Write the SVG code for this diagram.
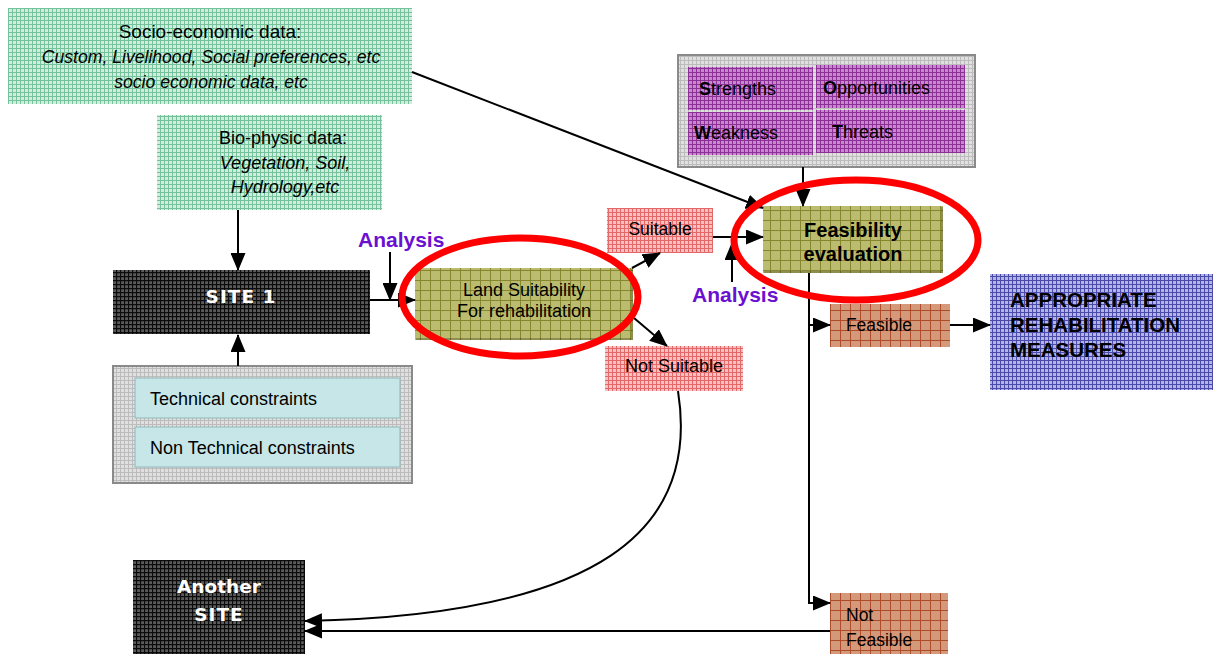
<svg xmlns="http://www.w3.org/2000/svg" width="1213" height="654" viewBox="0 0 1213 654">
<defs>
<pattern id="pGreen" patternUnits="userSpaceOnUse" width="4" height="4"><rect width="4" height="4" fill="#d2ecdd"/><path d="M0,0.5H4M0.5,0V4" stroke="#74c29c" stroke-width="1"/></pattern>
<pattern id="pDark" patternUnits="userSpaceOnUse" width="4" height="4"><rect width="4" height="4" fill="#5a5a5a"/><path d="M0,0.5H4M0.5,0V4" stroke="#0c0c0c" stroke-width="1.3"/></pattern>
<pattern id="pOlive" patternUnits="userSpaceOnUse" width="10" height="10"><rect width="10" height="10" fill="#bcbc70"/><path d="M0,0.5H10M0.5,0V10" stroke="#86862e" stroke-width="1"/></pattern>
<pattern id="pPink" patternUnits="userSpaceOnUse" width="4" height="4"><rect width="4" height="4" fill="#f8c0c0"/><path d="M0,0.5H4M0.5,0V4" stroke="#e46868" stroke-width="1"/></pattern>
<pattern id="pPurple" patternUnits="userSpaceOnUse" width="4" height="4"><rect width="4" height="4" fill="#c888cc"/><path d="M0,0.5H4M0.5,0V4" stroke="#8c3098" stroke-width="1"/></pattern>
<pattern id="pBlue" patternUnits="userSpaceOnUse" width="4" height="4"><rect width="4" height="4" fill="#b4b4e6"/><path d="M0,0.5H4M0.5,0V4" stroke="#4a4aa8" stroke-width="1.1"/></pattern>
<pattern id="pBrown" patternUnits="userSpaceOnUse" width="10" height="10"><rect width="10" height="10" fill="#d4987a"/><path d="M0,0.5H10M0.5,0V10" stroke="#ac4c28" stroke-width="1"/></pattern>
<pattern id="pGray" patternUnits="userSpaceOnUse" width="4" height="4"><rect width="4" height="4" fill="#e0e0e0"/><path d="M0,0.5H4M0.5,0V4" stroke="#bcbcbc" stroke-width="1"/></pattern>
<marker id="arr" markerUnits="userSpaceOnUse" markerWidth="18" markerHeight="15" refX="17" refY="7.5" orient="auto"><path d="M0,0L18,7.5L0,15Z" fill="#000"/></marker>
<style>
.t{font-family:"Liberation Sans",Arial,sans-serif;font-size:18px;fill:#000;text-anchor:middle}
.tl{font-family:"Liberation Sans",Arial,sans-serif;font-size:18px;fill:#000}
.it{font-style:italic}
.b{font-weight:bold}
.w{font-family:"DejaVu Sans",Verdana,sans-serif;font-weight:bold;font-size:18.5px;fill:#fff;text-anchor:middle}
.an{font-family:"Liberation Sans",Arial,sans-serif;font-weight:bold;font-size:21px;fill:#6a10d0}
.ca{fill:none;stroke:#000;stroke-width:2;marker-end:url(#arr)}
.ring{fill:none;stroke:#ff0000;stroke-width:7}
.bevel{fill:none;stroke:#000;stroke-opacity:0.25;stroke-width:2}
</style>
</defs>

<g id="socio">
<rect x="8" y="8" width="404" height="96" fill="url(#pGreen)"/>
<text class="t" x="210" y="38" style="font-size:19px">Socio-economic data:</text>
<text class="t it" x="211" y="63" style="font-size:17.6px">Custom, Livelihood, Social preferences, etc</text>
<text class="t it" x="211" y="88" style="font-size:17.6px">socio economic data, etc</text>
</g>

<g id="bio">
<rect x="157" y="115" width="225" height="95" fill="url(#pGreen)"/>
<text class="t" x="283" y="144">Bio-physic data:</text>
<text class="t it" x="285" y="169">Vegetation, Soil,</text>
<text class="t it" x="285" y="193">Hydrology,etc</text>
</g>

<g id="site1">
<rect x="113" y="270" width="257" height="64" fill="url(#pDark)"/>
<path class="bevel" d="M369,271V333H114"/>
<text class="w" x="241" y="303" letter-spacing="1">SITE 1</text>
</g>

<g id="constraints">
<rect x="113" y="366" width="299" height="117" fill="url(#pGray)" stroke="#8a8a8a" stroke-width="2"/>
<rect x="135" y="378" width="265" height="40" fill="#c6e6e8" stroke="#8fb8ba" stroke-width="1"/>
<text class="tl" x="150" y="405">Technical constraints</text>
<rect x="135" y="427" width="265" height="40" fill="#c6e6e8" stroke="#8fb8ba" stroke-width="1"/>
<text class="tl" x="150" y="454">Non Technical constraints</text>
</g>

<g id="land">
<rect x="415" y="268" width="218" height="72" fill="url(#pOlive)"/>
<path class="bevel" d="M632,269V339H416"/>
<text class="t" x="524" y="296">Land Suitability</text>
<text class="t" x="524" y="317">For rehabilitation</text>
</g>

<g id="suitable">
<rect x="607" y="208" width="106" height="45" fill="url(#pPink)"/>
<text class="t" x="660" y="235" style="font-size:17.5px">Suitable</text>
</g>

<g id="notsuitable">
<rect x="605" y="346" width="138" height="45" fill="url(#pPink)"/>
<text class="t" x="674" y="372">Not Suitable</text>
</g>

<g id="swot">
<rect x="678" y="55" width="297" height="112" fill="url(#pGray)" stroke="#8a8a8a" stroke-width="2"/>
<rect x="688" y="67" width="125" height="43" fill="url(#pPurple)"/>
<rect x="816" y="65" width="149" height="43" fill="url(#pPurple)"/>
<rect x="688" y="112" width="125" height="43" fill="url(#pPurple)"/>
<rect x="816" y="110" width="149" height="43" fill="url(#pPurple)"/>
<text class="tl" x="699" y="95"><tspan class="b">S</tspan>trengths</text>
<text class="tl" x="823" y="94"><tspan class="b">O</tspan>pportunities</text>
<text class="tl" x="694" y="139"><tspan class="b">W</tspan>eakness</text>
<text class="tl" x="832" y="138"><tspan class="b">T</tspan>hreats</text>
</g>

<g id="feasibility">
<rect x="763" y="206" width="180" height="67" fill="url(#pOlive)"/>
<path class="bevel" d="M942,207V272H764"/>
<text class="t b" x="853" y="237" style="font-size:20px">Feasibility</text>
<text class="t b" x="853" y="261" style="font-size:20px">evaluation</text>
</g>

<g id="feasible">
<rect x="830" y="304" width="120" height="43" fill="url(#pBrown)"/>
<text class="t" x="879" y="331" style="font-size:17.5px">Feasible</text>
</g>

<g id="appropriate">
<rect x="990" y="274" width="223" height="116" fill="url(#pBlue)"/>
<text class="tl b" x="1010" y="307" style="font-size:20.5px">APPROPRIATE</text>
<text class="tl b" x="1010" y="332" style="font-size:20.5px">REHABILITATION</text>
<text class="tl b" x="1010" y="357" style="font-size:20.5px">MEASURES</text>
</g>

<g id="notfeasible">
<rect x="830" y="593" width="118" height="61" fill="url(#pBrown)"/>
<text class="tl" x="846" y="621" style="font-size:17.5px">Not</text>
<text class="tl" x="846" y="646" style="font-size:17.5px">Feasible</text>
</g>

<g id="another">
<rect x="133" y="560" width="172" height="94" fill="url(#pDark)"/>
<path class="bevel" d="M304,561V653H134"/>
<text class="w" x="219" y="593">Another</text>
<text class="w" x="219" y="621" letter-spacing="1">SITE</text>
</g>

<g id="labels">
<text class="an" x="358" y="247">Analysis</text>
<text class="an" x="692" y="302">Analysis</text>
</g>

<g id="connectors">
<line class="ca" x1="412" y1="72" x2="763" y2="208"/>
<line class="ca" x1="238" y1="210" x2="238" y2="270"/>
<line class="ca" x1="238" y1="366" x2="238" y2="335"/>
<line class="ca" x1="370" y1="300" x2="415" y2="300"/>
<line class="ca" x1="390" y1="252" x2="390" y2="300"/>
<line class="ca" x1="632" y1="268" x2="660" y2="253"/>
<line class="ca" x1="634" y1="318" x2="667" y2="346"/>
<line class="ca" x1="713" y1="237" x2="763" y2="237"/>
<line class="ca" x1="732" y1="282" x2="732" y2="243"/>
<line class="ca" x1="803" y1="167" x2="803" y2="206"/>
<polyline class="ca" points="809,273 809,603 830,603"/>
<line class="ca" x1="809" y1="325" x2="830" y2="325"/>
<line class="ca" x1="950" y1="325" x2="990" y2="325"/>
<line class="ca" x1="830" y1="631" x2="305" y2="631"/>
<path class="ca" d="M678,391C700,530 600,615 305,621"/>
</g>

<g id="highlights">
<ellipse class="ring" cx="520" cy="297" rx="118" ry="59"/>
<ellipse class="ring" cx="856" cy="240" rx="122" ry="60"/>
</g>
</svg>
